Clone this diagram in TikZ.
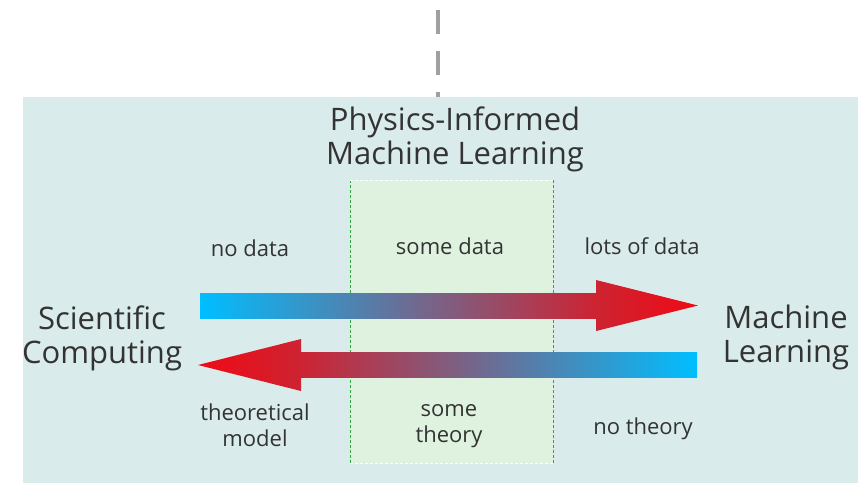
\documentclass[tikz,border=0pt]{standalone}
\usepackage{fontspec}
\setmainfont{Open Sans}
\definecolor{panelbg}{HTML}{DAEBEB}
\definecolor{midbg}{HTML}{DFF2DF}
\definecolor{edgegreen}{HTML}{2EA83A}
\definecolor{dashgray}{HTML}{A0A0A0}
\definecolor{txt}{HTML}{333333}
\definecolor{cool}{RGB}{0,190,255}
\definecolor{warm}{RGB}{205,35,50}
\definecolor{hot}{RGB}{240,10,20}
\begin{document}
\begin{tikzpicture}[x=1pt,y=-1pt,
  small/.style={font=\fontsize{22}{26}\selectfont, text=txt, align=center, inner sep=0pt},
  big/.style={font=\fontsize{31}{34}\selectfont, text=txt, align=center, inner sep=0pt}]
\useasboundingbox (0,0) rectangle (858,483);
% panel
\fill[panelbg] (23,97) rectangle (858,483);
% vertical dashed guide above the panel
\coordinate (guidetop) at (438,10);
\coordinate (guidebot) at (438,97);
\draw[dashgray, line width=3.5pt, dash pattern=on 24pt off 17pt] (guidetop) -- (guidebot);
% middle band
\fill[midbg] (350,180) rectangle (553,463);
\draw[edgegreen, line width=1pt, dash pattern=on 3pt off 2pt] (350,180) -- (350,463);
\draw[edgegreen, line width=1pt, dash pattern=on 3pt off 2pt] (553,180) -- (553,463);
\draw[white, line width=1pt, dash pattern=on 3pt off 2pt] (350,180) -- (553,180);
\draw[white, line width=1pt, dash pattern=on 3pt off 2pt] (350,463) -- (553,463);
% forward arrow: shaft and head
\shade[left color=cool, right color=warm] (200,293) rectangle (596.5,318);
\shade[left color=warm, right color=hot] (596,280) -- (698,305.5) -- (596,331) -- cycle;
% backward arrow: shaft and head
\shade[left color=warm, right color=cool] (300.5,352) rectangle (697,377);
\shade[left color=hot, right color=warm] (301,339) -- (198,365) -- (301,391) -- cycle;
% labels
\node[big] (pimltitle) at (455,139) {Physics-Informed\\Machine Learning};
\node[big] (sci) at (102,338) {Scientific\\Computing};
\node[big] (ml) at (786,337) {Machine\\Learning};
\node[small] (nodata) at (250,248) {no data};
\node[small] (somedata) at (450,246) {some data};
\node[small] (lotsdata) at (642,246) {lots of data};
\node[small] (theo) at (255,425) {theoretical\\model};
\node[small] (sometheo) at (449,426) {some\\theory};
\node[small] (notheo) at (643,429) {no theory};
\end{tikzpicture}
\end{document}
